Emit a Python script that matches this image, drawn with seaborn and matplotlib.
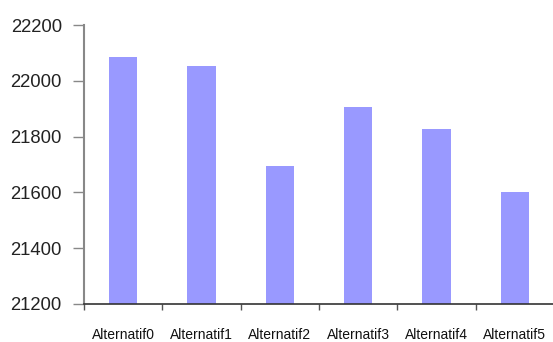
import matplotlib
matplotlib.use("Agg")
import matplotlib.pyplot as plt
import seaborn as sns
import pandas as pd

categories = ["Alternatif0", "Alternatif1", "Alternatif2", "Alternatif3", "Alternatif4", "Alternatif5"]
values = [22084, 22053, 21695, 21907, 21827, 21601]
y_ticks = [21200, 21400, 21600, 21800, 22000, 22200]

sns.set_style("white")
plt.rcParams["font.family"] = ["Liberation Sans", "DejaVu Sans"]

df = pd.DataFrame({"alt": categories, "val": values})

fig = plt.figure(figsize=(5.53, 3.42), dpi=100)
ax = fig.add_axes([84 / 553, 38 / 342, 470 / 553, 279 / 342])

sns.barplot(data=df, x="alt", y="val", color="#9999FF", saturation=1,
            width=0.36, edgecolor="none", ax=ax)

ax.set_ylim(y_ticks[0], y_ticks[-1])
ax.set_xlim(-0.5, len(categories) - 0.5)
ax.set_yticks(y_ticks)
ax.set_yticklabels([str(t) for t in y_ticks], fontsize=13.3, color="#222222")
ax.tick_params(axis="y", direction="out", length=8, width=1, color="#888888", pad=8, left=True)

ax.set_xticks(range(len(categories)))
ax.set_xticklabels(categories, fontsize=10, color="#111111")
ax.tick_params(axis="x", which="major", length=0, pad=17)
ax.set_xticks([i - 0.5 for i in range(len(categories) + 1)], minor=True)
ax.tick_params(axis="x", which="minor", direction="out", length=4, width=1, color="#555555", bottom=True)

ax.set_xlabel("")
ax.set_ylabel("")
for s in ["top", "right"]:
    ax.spines[s].set_visible(False)
ax.spines["left"].set_color("#888888")
ax.spines["left"].set_linewidth(1.5)
ax.spines["bottom"].set_color("#333333")
ax.spines["bottom"].set_linewidth(1.2)

fig.savefig("out.png", dpi=100)
